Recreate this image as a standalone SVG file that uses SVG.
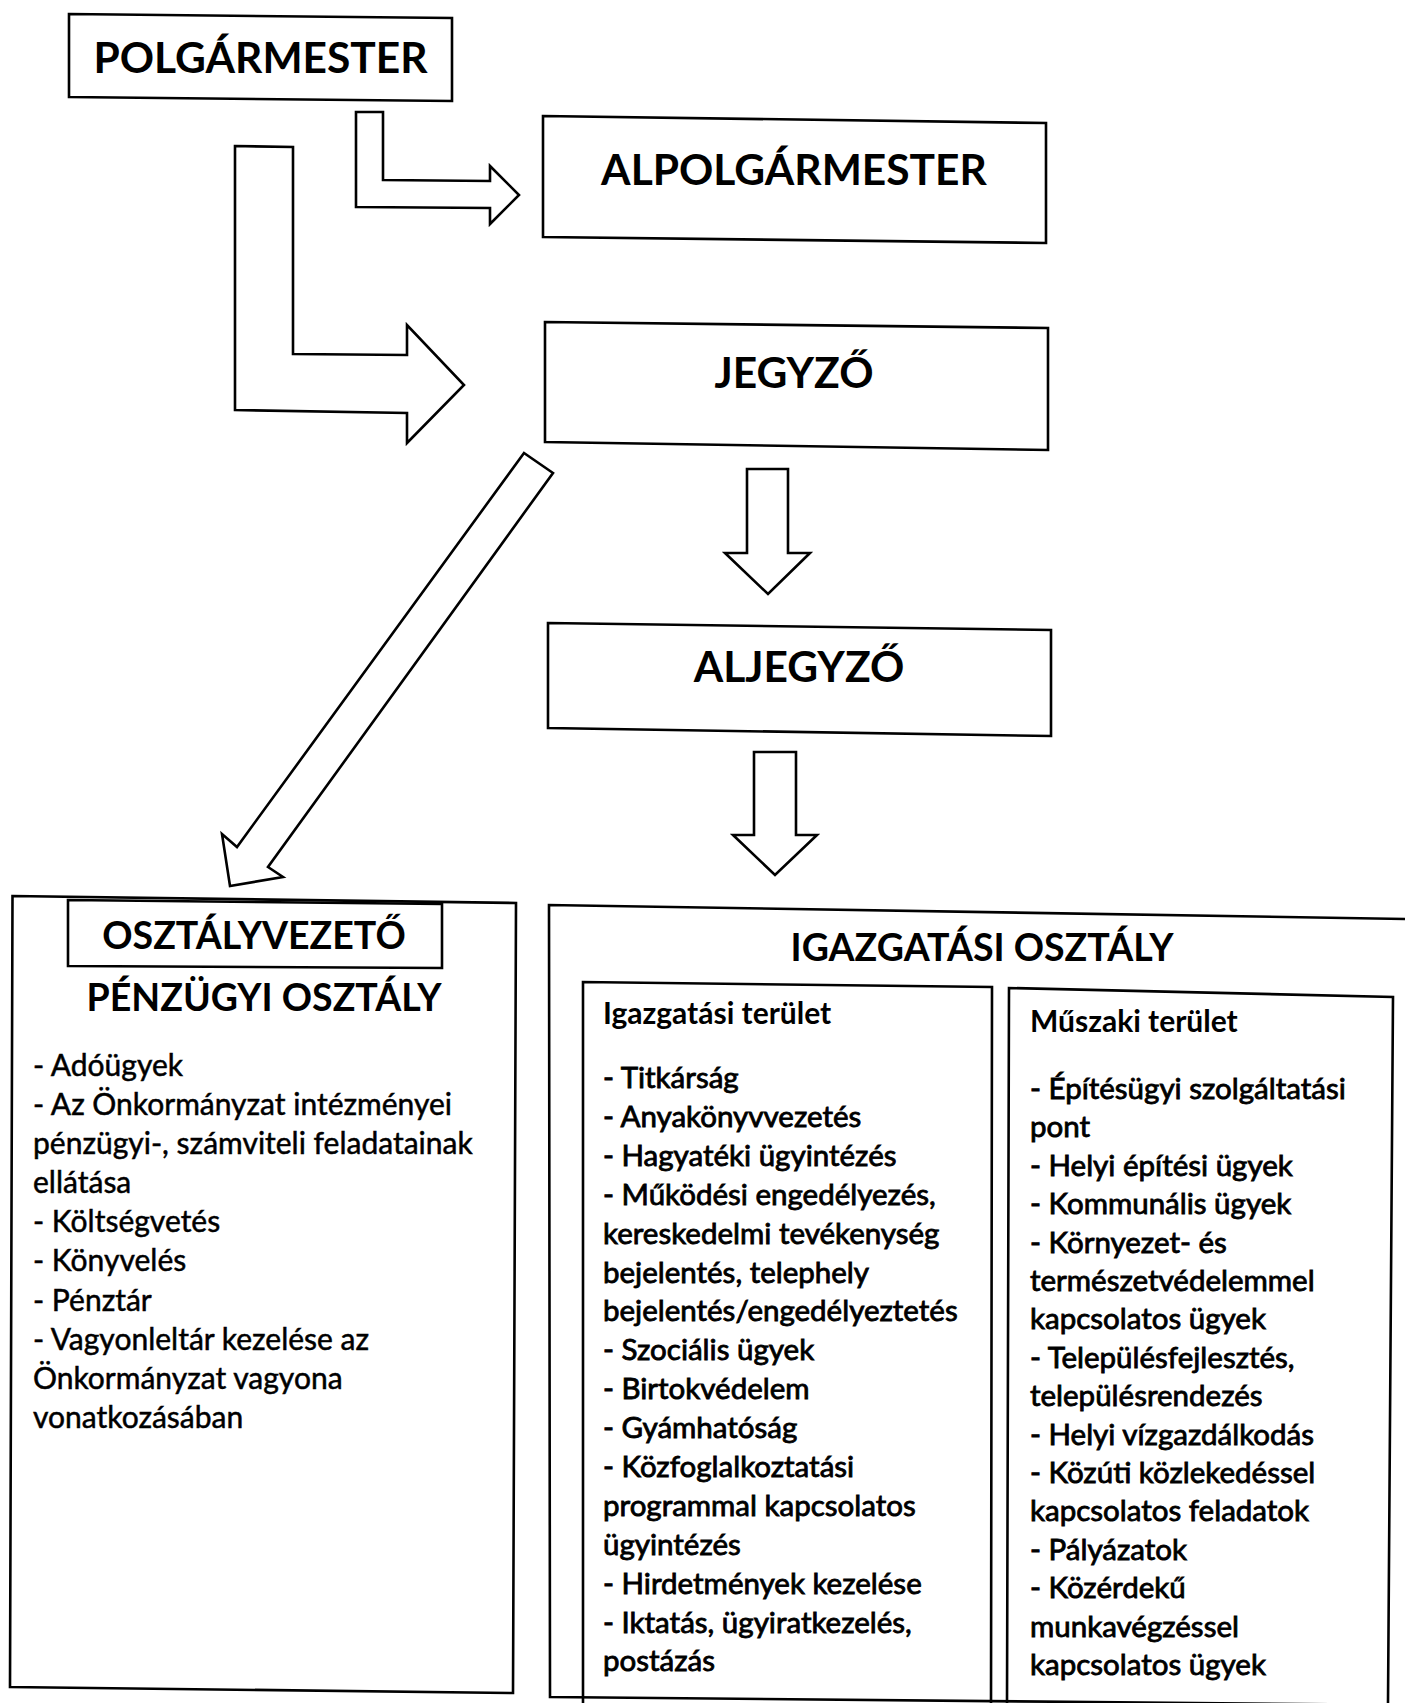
<svg xmlns="http://www.w3.org/2000/svg" width="1405" height="1703" viewBox="0 0 1405 1703">
<style>
.box{fill:none;stroke:#000;stroke-width:2.6;stroke-linejoin:miter}
.arrow{fill:#fff;stroke:#000;stroke-width:2.6;stroke-linejoin:miter}
.title{font-family:Lato,Carlito,"Liberation Sans",sans-serif;font-weight:700;font-size:42.5px;fill:#000;text-anchor:middle}
.head{font-family:Lato,Carlito,"Liberation Sans",sans-serif;font-weight:700;font-size:37.5px;fill:#000;text-anchor:middle}
.sub{font-family:Lato,Carlito,"Liberation Sans",sans-serif;font-weight:700;font-size:30px;fill:#000}
.body{font-family:Lato,Carlito,"Liberation Sans",sans-serif;font-weight:400;font-size:29.5px;fill:#000}
.left{font-size:30px;stroke:#000;stroke-width:0.5}
.dark{stroke:#000;stroke-width:0.85}
</style>
<rect x="0" y="0" width="1405" height="1703" fill="#fff"/>

<g id="connectors">
<polygon class="arrow" points="356,112 383,112 383,180 490,181 490,166 519,195 490,224 490,208 356,207"/>
<polygon class="arrow" points="235,146 293,147 293,354 407,355 407,325 464,385 407,443 407,413 235,410"/>
<polygon class="arrow" points="524,453 553,473 268,867 283,877 230,886 222,834 237,847"/>
<polygon class="arrow" points="747,469 788,469 788,553 810,553 768,594 725,553 747,553"/>
<polygon class="arrow" points="754,752 796,752 796,835 817,835 775,875 733,835 754,835"/>
</g>

<g id="polgarmester">
<polygon class="box" points="69,14 452,18 452,101 69,97"/>
<text class="title" x="260.5" y="73">POLGÁRMESTER</text>
</g>

<g id="alpolgarmester">
<polygon class="box" points="543,116 1046,123 1046,243 543,237"/>
<text class="title" x="794" y="185">ALPOLGÁRMESTER</text>
</g>

<g id="jegyzo">
<polygon class="box" points="545,322 1048,328 1048,450 545,442"/>
<text class="title" x="794" y="388">JEGYZŐ</text>
</g>

<g id="aljegyzo">
<polygon class="box" points="548,623 1051,630 1051,736 548,728"/>
<text class="title" x="799" y="682">ALJEGYZŐ</text>
</g>

<g id="penzugyi-osztaly">
<polygon class="box" points="12.5,896 516,903 513,1693 10,1687"/>
<g id="osztalyvezeto">
<polygon class="box" points="68,900 442,904 442,968 68,966"/>
<text class="head" x="254" y="949">OSZTÁLYVEZETŐ</text>
</g>
<text class="head" x="264" y="1011">PÉNZÜGYI OSZTÁLY</text>
<g class="body left">
<text x="33" y="1076">- Adóügyek</text>
<text x="33" y="1115">- Az Önkormányzat intézményei</text>
<text x="33" y="1154">pénzügyi-, számviteli feladatainak</text>
<text x="33" y="1193">ellátása</text>
<text x="33" y="1232">- Költségvetés</text>
<text x="33" y="1271">- Könyvelés</text>
<text x="33" y="1311">- Pénztár</text>
<text x="33" y="1350">- Vagyonleltár kezelése az</text>
<text x="33" y="1389">Önkormányzat vagyona</text>
<text x="33" y="1428">vonatkozásában</text>
</g>
</g>

<g id="igazgatasi-osztaly">
<path class="box" d="M1405,919 L549,905 L550,1697 L1405,1705"/>
<text class="head" x="982" y="961">IGAZGATÁSI OSZTÁLY</text>
</g>

<g id="igazgatasi-terulet">
<path class="box" d="M583,1703 L583,982 L992,987 L991,1703"/>
<text class="sub" x="603" y="1024">Igazgatási terület</text>
<g class="body dark">
<text x="603" y="1088">- Titkárság</text>
<text x="603" y="1127">- Anyakönyvvezetés</text>
<text x="603" y="1166">- Hagyatéki ügyintézés</text>
<text x="603" y="1205">- Működési engedélyezés,</text>
<text x="603" y="1244">kereskedelmi tevékenység</text>
<text x="603" y="1283">bejelentés, telephely</text>
<text x="603" y="1321">bejelentés/engedélyeztetés</text>
<text x="603" y="1360">- Szociális ügyek</text>
<text x="603" y="1399">- Birtokvédelem</text>
<text x="603" y="1438">- Gyámhatóság</text>
<text x="603" y="1477">- Közfoglalkoztatási</text>
<text x="603" y="1516">programmal kapcsolatos</text>
<text x="603" y="1555">ügyintézés</text>
<text x="603" y="1594">- Hirdetmények kezelése</text>
<text x="603" y="1633">- Iktatás, ügyiratkezelés,</text>
<text x="603" y="1671">postázás</text>
</g>
</g>

<g id="muszaki-terulet">
<path class="box" d="M1007,1703 L1009,988 L1393,997 L1388,1703"/>
<text class="sub" x="1030" y="1032">Műszaki terület</text>
<g class="body dark">
<text x="1030" y="1099">- Építésügyi szolgáltatási</text>
<text x="1030" y="1137">pont</text>
<text x="1030" y="1176">- Helyi építési ügyek</text>
<text x="1030" y="1214">- Kommunális ügyek</text>
<text x="1030" y="1253">- Környezet- és</text>
<text x="1030" y="1291">természetvédelemmel</text>
<text x="1030" y="1329">kapcsolatos ügyek</text>
<text x="1030" y="1368">- Településfejlesztés,</text>
<text x="1030" y="1406">településrendezés</text>
<text x="1030" y="1445">- Helyi vízgazdálkodás</text>
<text x="1030" y="1483">- Közúti közlekedéssel</text>
<text x="1030" y="1521">kapcsolatos feladatok</text>
<text x="1030" y="1560">- Pályázatok</text>
<text x="1030" y="1598">- Közérdekű</text>
<text x="1030" y="1637">munkavégzéssel</text>
<text x="1030" y="1675">kapcsolatos ügyek</text>
</g>
</g>
</svg>
